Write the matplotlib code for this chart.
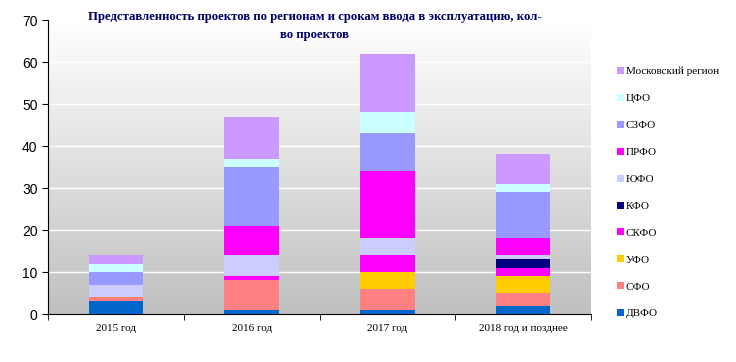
import matplotlib
matplotlib.use("Agg")
import matplotlib.pyplot as plt
import numpy as np

# data
years = ['2015 год', '2016 год', '2017 год', '2018 год и позднее']
regions = ['ДВФО', 'СФО', 'УФО', 'СКФО', 'КФО', 'ЮФО', 'ПРФО', 'СЗФО', 'ЦФО', 'Московский регион']
dvfo = [3, 1, 1, 2]
sfo = [1, 7, 5, 3]
ufo = [0, 0, 4, 4]
skfo = [0, 1, 4, 2]
kfo = [0, 0, 0, 2]
yufo = [3, 5, 4, 1]
prfo = [0, 7, 16, 4]
szfo = [3, 14, 9, 11]
cfo = [2, 2, 5, 2]
moscow = [2, 10, 14, 7]
series = [dvfo, sfo, ufo, skfo, kfo, yufo, prfo, szfo, cfo, moscow]
colors = ['#0066CC', '#FF8080', '#FFCC00', '#FF00FF', '#000080',
          '#CCCCFF', '#FF00FF', '#9999FF', '#CCFFFF', '#CC99FF']

fig = plt.figure(figsize=(7.36, 3.62), dpi=100)
ax = fig.add_axes([48/736, 1-314/362, (591-48)/736, (314-20)/362])

# gradient background white -> grey
grad = np.linspace(1, 0, 256).reshape(-1, 1)
ax.imshow(grad, extent=[0, 1, 0, 1], transform=ax.transAxes, aspect='auto',
          cmap=matplotlib.colors.LinearSegmentedColormap.from_list('g', ['#C0C0C0', '#FFFFFF']),
          zorder=0)

x = np.arange(len(years))
bottom = np.zeros(len(years))
handles = []
for vals, col, name in zip(series, colors, regions):
    b = ax.bar(x, vals, 0.4, bottom=bottom, color=col, label=name, zorder=3)
    handles.append(b)
    bottom += np.array(vals)

ax.set_xlim(-0.5, len(years) - 0.5)
ax.set_ylim(0, 70)
ax.set_yticks(range(0, 71, 10))
for yv in range(10, 70, 10):
    ax.axhline(yv, color='white', lw=1, zorder=1)

ax.set_xticks(x)
ax.set_xticklabels(years, fontfamily='Liberation Serif', fontsize=8)
ax.set_xticks(np.arange(-0.5, len(years)), minor=True)
ax.tick_params(axis='x', which='major', length=0, pad=7)
ax.tick_params(axis='x', which='minor', length=4, direction='out')
ax.tick_params(axis='y', labelsize=10, length=4, direction='out')
for lab in ax.get_yticklabels():
    lab.set_fontfamily('Liberation Sans')
for s in ['top', 'right']:
    ax.spines[s].set_visible(False)

title_kw = dict(ha='center', va='center', fontfamily='Liberation Serif', fontweight='bold',
                fontsize=9.2, color='#000066')
fig.text(315/736, 1-17/362, 'Представленность проектов по регионам и срокам ввода в эксплуатацию, кол-', **title_kw)
fig.text(315/736, 1-35/362, 'во проектов', **title_kw)

fig.legend(handles[::-1], regions[::-1], loc='upper left', bbox_to_anchor=(617/736, 1-67/362),
           frameon=False, prop={'family': 'Liberation Serif', 'size': 8},
           handlelength=0.6, handleheight=0.6, handletextpad=0.2, labelspacing=1.57,
           borderaxespad=0, borderpad=0)

fig.savefig('out.png', dpi=100)
